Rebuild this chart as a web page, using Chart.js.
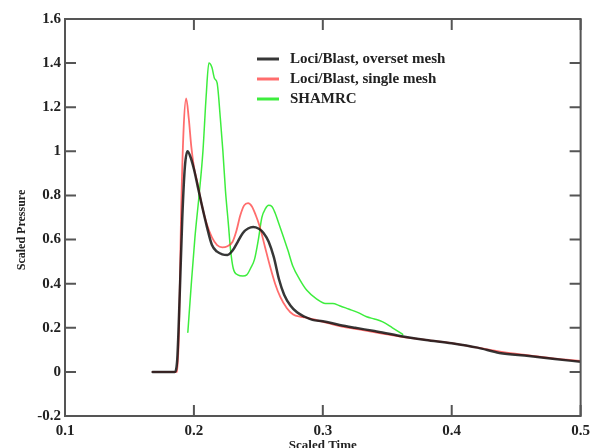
<!DOCTYPE html>
<html>
<head>
<meta charset="utf-8">
<script src="https://cdn.jsdelivr.net/npm/chart.js@4"></script>
<style>
  html, body { margin: 0; padding: 0; background: #fff; }
  #wrap { width: 596px; height: 448px; }
</style>
</head>
<body>
<div id="wrap"><canvas id="pressure-chart" width="596" height="448"></canvas></div>
<script>
// Loci/Blast, overset mesh
const oversetTime = [0.168, 0.185, 0.187, 0.189, 0.191, 0.193, 0.195, 0.197, 0.200, 0.203, 0.206, 0.210, 0.214, 0.218, 0.222, 0.226, 0.230, 0.234, 0.238, 0.242, 0.246, 0.250, 0.254, 0.258, 0.262, 0.266, 0.270, 0.275, 0.280, 0.286, 0.292, 0.300, 0.313, 0.325, 0.340, 0.360, 0.380, 0.400, 0.420, 0.437, 0.460, 0.480, 0.500];
const oversetValue = [0, 0, 0.05, 0.35, 0.7, 0.93, 1.0, 0.98, 0.92, 0.84, 0.76, 0.66, 0.575, 0.545, 0.533, 0.53, 0.55, 0.59, 0.63, 0.65, 0.657, 0.65, 0.63, 0.59, 0.52, 0.42, 0.35, 0.30, 0.27, 0.25, 0.236, 0.23, 0.213, 0.2, 0.185, 0.163, 0.145, 0.13, 0.11, 0.086, 0.072, 0.058, 0.046];

// Loci/Blast, single mesh
const singleTime = [0.168, 0.187, 0.1885, 0.190, 0.192, 0.194, 0.196, 0.198, 0.200, 0.203, 0.206, 0.210, 0.214, 0.218, 0.222, 0.226, 0.230, 0.233, 0.236, 0.239, 0.242, 0.245, 0.248, 0.251, 0.255, 0.259, 0.263, 0.267, 0.272, 0.277, 0.283, 0.288, 0.295, 0.305, 0.315, 0.330, 0.345, 0.360, 0.380, 0.400, 0.420, 0.440, 0.460, 0.480, 0.500];
const singleValue = [0, 0, 0.2, 0.7, 1.1, 1.24, 1.15, 1.02, 0.93, 0.85, 0.76, 0.67, 0.61, 0.575, 0.565, 0.57, 0.59, 0.64, 0.71, 0.755, 0.765, 0.75, 0.71, 0.66, 0.57, 0.48, 0.40, 0.34, 0.29, 0.26, 0.25, 0.245, 0.235, 0.22, 0.205, 0.19, 0.175, 0.16, 0.145, 0.13, 0.11, 0.09, 0.075, 0.06, 0.05];

// SHAMRC
const shamrcTime = [0.1953, 0.198, 0.2008, 0.204, 0.207, 0.2095, 0.2116, 0.214, 0.216, 0.218, 0.2205, 0.2225, 0.2245, 0.2266, 0.2285, 0.2305, 0.234, 0.238, 0.241, 0.244, 0.247, 0.250, 0.2527, 0.2555, 0.258, 0.2605, 0.263, 0.266, 0.269, 0.273, 0.2767, 0.282, 0.2876, 0.2953, 0.302, 0.3078, 0.313, 0.320, 0.327, 0.334, 0.340, 0.3465, 0.354, 0.362];
const shamrcValue = [0.18, 0.40, 0.61, 0.80, 1.0, 1.25, 1.40, 1.38, 1.33, 1.31, 1.15, 1.0, 0.82, 0.68, 0.55, 0.47, 0.44, 0.435, 0.44, 0.47, 0.51, 0.60, 0.70, 0.74, 0.755, 0.75, 0.72, 0.67, 0.62, 0.55, 0.48, 0.42, 0.37, 0.33, 0.31, 0.31, 0.30, 0.285, 0.27, 0.25, 0.24, 0.227, 0.20, 0.17];

const seriesNames = ['Loci/Blast, overset mesh', 'Loci/Blast, single mesh', 'SHAMRC'];
const xTitle = 'Scaled Time';
const yTitle = 'Scaled Pressure';

function toPoints(times, values) {
    return times.map((t, i) => ({ x: t, y: values[i] }));
}

function shortLabel(value) {
    return String(Number(value.toFixed(1)));
}

const serif = "'Liberation Serif', 'DejaVu Serif', serif";

// inward ticks on all four sides, plus the top/right frame
const framePlugin = {
    id: 'frame',
    afterDraw(chart) {
        const { ctx, chartArea: a, scales } = chart;
        ctx.save();
        ctx.strokeStyle = '#555';
        ctx.lineWidth = 2;
        ctx.strokeRect(a.left, a.top, a.right - a.left, a.bottom - a.top);
        const len = 11;
        scales.x.ticks.forEach(t => {
            const px = scales.x.getPixelForValue(t.value);
            ctx.beginPath();
            ctx.moveTo(px, a.bottom); ctx.lineTo(px, a.bottom - len);
            ctx.moveTo(px, a.top); ctx.lineTo(px, a.top + len);
            ctx.stroke();
        });
        scales.y.ticks.forEach(t => {
            const py = scales.y.getPixelForValue(t.value);
            ctx.beginPath();
            ctx.moveTo(a.left, py); ctx.lineTo(a.left + len, py);
            ctx.moveTo(a.right, py); ctx.lineTo(a.right - len, py);
            ctx.stroke();
        });

        // axis titles
        ctx.fillStyle = '#222';
        ctx.font = 'bold 13px ' + serif;
        ctx.textAlign = 'center';
        ctx.textBaseline = 'middle';
        ctx.fillText(xTitle, (a.left + a.right) / 2, 446);
        ctx.translate(22, 230);
        ctx.rotate(-Math.PI / 2);
        ctx.font = 'bold 12px ' + serif;
        ctx.fillText(yTitle, 0, 0);
        ctx.restore();

        // legend
        ctx.save();
        ctx.font = 'bold 15px ' + serif;
        ctx.textBaseline = 'middle';
        ctx.textAlign = 'left';
        chart.data.datasets.forEach((ds, i) => {
            const y = 59 + i * 20;
            ctx.strokeStyle = ds.borderColor;
            ctx.lineWidth = 3;
            ctx.beginPath();
            ctx.moveTo(257, y); ctx.lineTo(279, y);
            ctx.stroke();
            ctx.fillStyle = '#222';
            ctx.fillText(ds.label, 290, y);
        });
        ctx.restore();
    }
};

new Chart(document.querySelector('#pressure-chart').getContext('2d'), {
    type: 'line',
    data: {
        datasets: [
            {
                label: seriesNames[0],
                data: toPoints(oversetTime, oversetValue),
                borderColor: 'rgba(20, 20, 20, 0.85)',
                borderWidth: 2.5,
            },
            {
                label: seriesNames[1],
                data: toPoints(singleTime, singleValue),
                borderColor: 'rgba(255, 60, 60, 0.75)',
                borderWidth: 1.8,
            },
            {
                label: seriesNames[2],
                data: toPoints(shamrcTime, shamrcValue),
                borderColor: 'rgba(40, 235, 40, 0.9)',
                borderWidth: 1.5,
            }
        ]
    },
    options: {
        responsive: false,
        animation: false,
        parsing: false,
        elements: {
            point: { radius: 0 },
            line: { cubicInterpolationMode: 'monotone', borderCapStyle: 'round', borderJoinStyle: 'round' }
        },
        layout: { padding: { left: 0, right: 15, top: 19, bottom: 0 } },
        plugins: { legend: { display: false }, tooltip: { enabled: false } },
        scales: {
            x: {
                type: 'linear',
                min: 0.1,
                max: 0.5,
                grid: { display: false, drawTicks: false },
                border: { display: false },
                ticks: {
                    stepSize: 0.1,
                    padding: 6,
                    color: '#222',
                    maxRotation: 0,
                    callback: shortLabel,
                    font: { family: serif, size: 15, weight: 'bold' }
                },
                afterFit(scale) { scale.height = 32; }
            },
            y: {
                min: -0.2,
                max: 1.6,
                grid: { display: false, drawTicks: false },
                border: { display: false },
                ticks: {
                    stepSize: 0.2,
                    padding: 4,
                    color: '#222',
                    callback: shortLabel,
                    font: { family: serif, size: 15, weight: 'bold' }
                },
                afterFit(scale) { scale.width = 65; }
            }
        }
    },
    plugins: [framePlugin]
});
</script>
</body>
</html>
